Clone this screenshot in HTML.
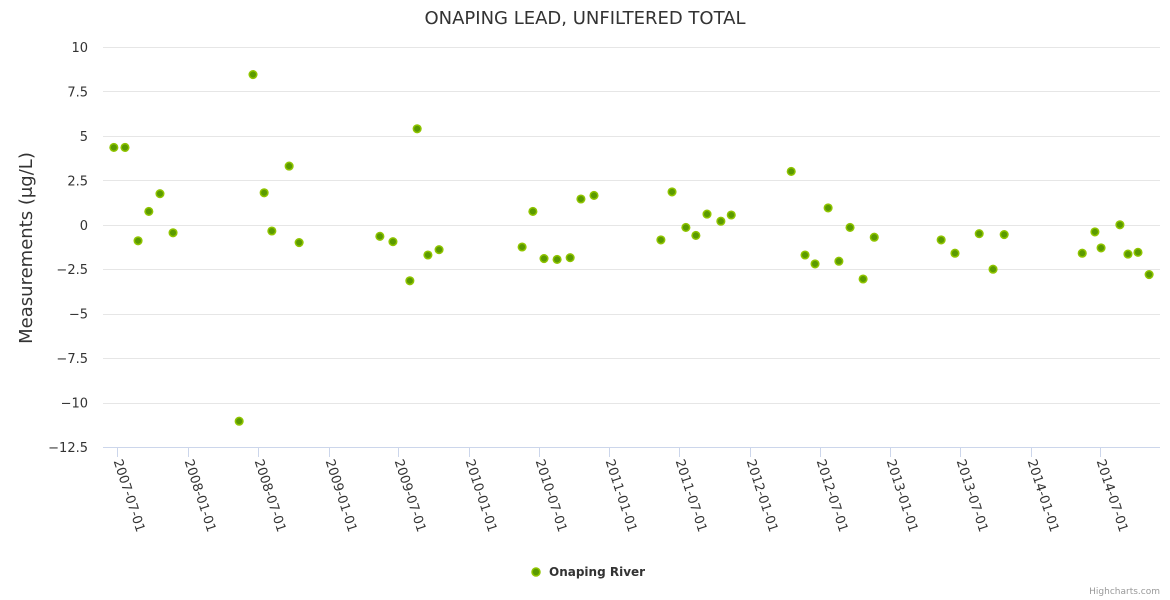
<!DOCTYPE html>
<html><head><meta charset="utf-8"><style>
body{margin:0;background:#fff;}
svg{display:block;font-family:"DejaVu Sans","Liberation Sans",sans-serif;}
</style></head><body>
<svg id="chart" width="1170" height="600">
<rect width="1170" height="600" fill="#fff"/>
<text x="585" y="24" text-anchor="middle" font-size="18" fill="#333">ONAPING LEAD, UNFILTERED TOTAL</text>
<g id="grid"></g><g id="yticks"></g><g id="xticks"></g><g id="points"></g>
<text transform="translate(32,248) rotate(-90)" text-anchor="middle" font-size="18" fill="#333">Measurements (μg/L)</text>
<g>
<circle cx="536" cy="572" r="4" fill="#5a9a00" stroke="#8fc400" stroke-width="1.5"/>
<text x="549" y="576" font-size="12" font-weight="bold" fill="#333">Onaping River</text>
</g>
<text x="1160" y="594" text-anchor="end" font-size="9" fill="#999">Highcharts.com</text>
</svg>
<script>
const dates=['2007-06-22','2007-07-21','2007-08-24','2007-09-21','2007-10-20','2007-11-23','2008-05-13','2008-06-18','2008-07-17','2008-08-06','2008-09-20','2008-10-16','2009-05-14','2009-06-17','2009-07-31','2009-08-19','2009-09-16','2009-10-15','2010-05-19','2010-06-16','2010-07-15','2010-08-18','2010-09-21','2010-10-19','2010-11-22','2011-05-15','2011-06-13','2011-07-19','2011-08-14','2011-09-12','2011-10-18','2011-11-14','2012-04-18','2012-05-24','2012-06-19','2012-07-23','2012-08-20','2012-09-18','2012-10-22','2012-11-20','2013-05-13','2013-06-18','2013-08-20','2013-09-25','2013-10-24','2014-05-15','2014-06-17','2014-07-03','2014-08-21','2014-09-11','2014-10-07','2014-11-05'];
const values=[4.35,4.35,-0.9,0.75,1.75,-0.45,-11.05,8.45,1.8,-0.35,3.3,-1.0,-0.65,-0.95,-3.15,5.4,-1.7,-1.4,-1.25,0.75,-1.9,-1.95,-1.85,1.45,1.65,-0.85,1.85,-0.15,-0.6,0.6,0.2,0.55,3.0,-1.7,-2.2,0.95,-2.05,-0.15,-3.05,-0.7,-0.85,-1.6,-0.5,-2.5,-0.55,-1.6,-0.4,-1.3,0.0,-1.65,-1.55,-2.8];
const yTicks=[10,7.5,5,2.5,0,-2.5,-5,-7.5,-10,-12.5];
const yTickLabels=['10','7.5','5','2.5','0','−2.5','−5','−7.5','−10','−12.5'];
const xTicks=['2007-07-01','2008-01-01','2008-07-01','2009-01-01','2009-07-01','2010-01-01','2010-07-01','2011-01-01','2011-07-01','2012-01-01','2012-07-01','2013-01-01','2013-07-01','2014-01-01','2014-07-01'];
const NS='http://www.w3.org/2000/svg';
const L=103,R=1160,T=47,B=447;
const t0=Date.parse('2007-07-01'),t1=Date.parse('2014-07-01');
const xs=d=>117.3+(Date.parse(d)-t0)/(t1-t0)*983;
const ys=v=>T+(10-v)/22.5*(B-T);
function mk(tag,a,p){const e=document.createElementNS(NS,tag);for(const k in a)e.setAttribute(k,a[k]);p.appendChild(e);return e;}
const grid=document.getElementById('grid'),yt=document.getElementById('yticks'),xt=document.getElementById('xticks'),pts=document.getElementById('points');
yTicks.forEach((v,i)=>{
  const y=Math.round(ys(v))+0.5;
  const g=mk('line',{x1:L,x2:R,y1:y,y2:y,stroke:'#e6e6e6','stroke-width':1},grid);
  
  
  const t=mk('text',{x:88,y:ys(v)+5,'text-anchor':'end','font-size':13,fill:'#333'},yt);
  t.textContent=yTickLabels[i];
  
  
});
const ax=mk('line',{x1:L,x2:R,y1:B+0.5,y2:B+0.5,stroke:'#ccd6eb','stroke-width':1},xt);


xTicks.forEach(d=>{
  const x=Math.round(xs(d))+0.5;
  const tk=mk('line',{x1:x,x2:x,y1:B,y2:B+10,stroke:'#ccd6eb'},xt);
  
  
  const t=mk('text',{transform:`translate(${x-4},${B+14}) rotate(72)`,'font-size':13,fill:'#333'},xt);
  t.textContent=d;
  
  
});
dates.forEach((d,i)=>{
  const c=mk('circle',{cx:xs(d),cy:ys(values[i]),r:3.8,fill:'#5a9a00',stroke:'#8fc400','stroke-width':1.5},pts);
  
  
});
</script>
</body></html>
